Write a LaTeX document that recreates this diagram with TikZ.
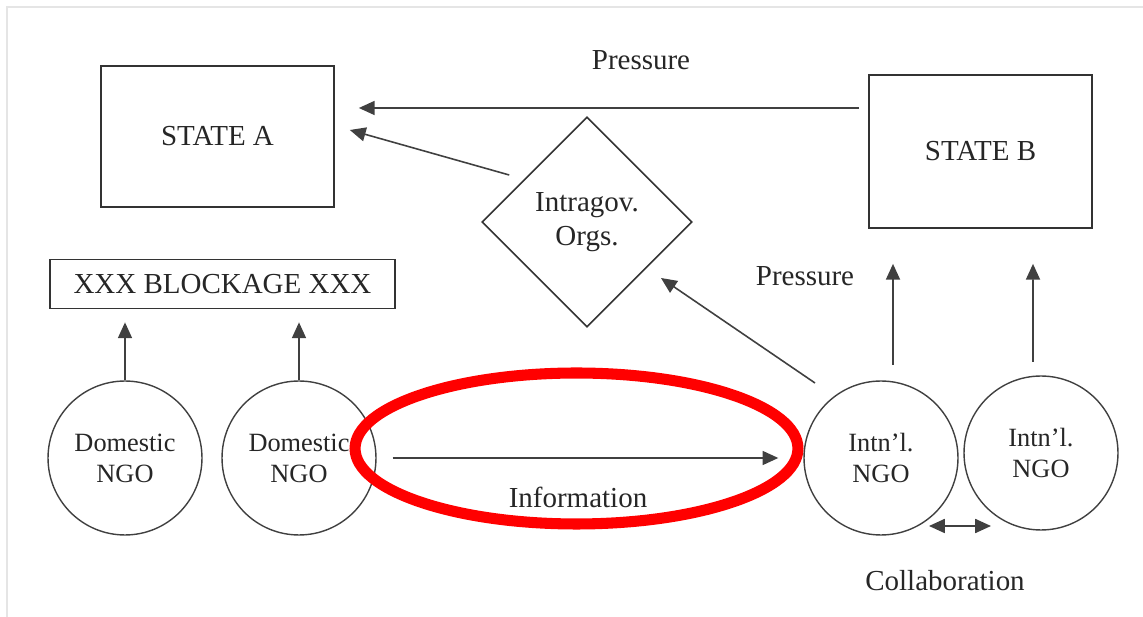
\documentclass[tikz,border=0pt]{standalone}
\usepackage{fontspec}
\setmainfont{Liberation Serif}
\usetikzlibrary{shapes.geometric,arrows.meta}

\begin{document}
\begin{tikzpicture}[x=0.02cm,y=-0.02cm,font=\fontsize{16.5}{19.5}\selectfont,
	box/.style={draw=black!80, line width=1pt, text=black!85},
	ngo/.style={draw=black!75, line width=0.8pt, circle, minimum size=3.08cm, inner sep=0pt,
		align=center, text=black!85, font=\fontsize{15}{17.6}\selectfont},
	arr/.style={draw=black!75, line width=0.9pt, -{Triangle[length=9pt,width=8pt]}},
	biarr/.style={draw=black!75, line width=0.9pt, {Triangle[length=9pt,width=8pt]}-{Triangle[length=9pt,width=8pt]}},
	lbl/.style={text=black!85}]
	\useasboundingbox (0,0) rectangle (1143,617);

	% Cornice
	\draw[black!10, line width=1pt] (7,617) -- (7,7) -- (1143,7);

	% Stati e blocco
	\node[box, minimum width=4.66cm, minimum height=2.82cm] (stateA) at (217.5,136.5) {STATE A};
	\node[box, minimum width=4.46cm, minimum height=3.06cm] (stateB) at (980.5,151.5) {STATE B};
	\node[box, minimum width=6.9cm, minimum height=0.98cm, inner sep=0pt] (block) at (222.5,284) {XXX BLOCKAGE XXX};

	% Organizzazioni intergovernative
	\node[box, diamond, aspect=1, minimum width=4.2cm, minimum height=4.2cm, inner sep=0pt,
		align=center, line width=0.9pt] (igo) at (587,222) {Intragov.\\Orgs.};

	% ONG
	\node[ngo] (dom1) at (125,458) {Domestic\\NGO};
	\node[ngo] (dom2) at (299,458) {Domestic\\NGO};
	\node[ngo] (intl1) at (881,458) {Intn'l.\\NGO};
	\node[ngo] (intl2) at (1041,453) {Intn'l.\\NGO};

	% Frecce
	\draw[arr] ([shift={(-9,-43.5)}]stateB.west) -- ([shift={(24,-28.5)}]stateA.east);
	\draw[arr] ([shift={(28,-47)}]igo.west) -- ([shift={(15,-6.5)}]stateA.east);
	\draw[arr] ([shift={(-66,-75)}]intl1.center) -- ([shift={(74,56)}]igo.center);
	\draw[arr] ([shift={(12,-93)}]intl1.center) -- ([shift={(-87.5,35)}]stateB.south);
	\draw[arr] ([shift={(-8,-91)}]intl2.center) -- ([shift={(52.5,35)}]stateB.south);
	\draw[arr, shorten >=0.26cm] (dom1.north) -- (dom1.north |- block.south);
	\draw[arr, shorten >=0.26cm] (dom2.north) -- (dom2.north |- block.south);
	\draw[arr, shorten <=0.32cm, shorten >=0.5cm] (dom2.east) -- (intl1.west);
	\draw[biarr] ([shift={(48,68)}]intl1.center) -- ([shift={(-50,73)}]intl2.center);

	% Etichette
	\node[lbl] (press1) at (641,60) {Pressure};
	\node[lbl] (press2) at (805,276) {Pressure};
	\node[lbl] (info) at (578,497) {Information};
	\node[lbl] (collab) at (945,581) {Collaboration};

	% Evidenziatura rossa
	\draw[red, line width=6.3pt] (576.5,448.5) ellipse [x radius=4.43cm, y radius=1.51cm];
\end{tikzpicture}
\end{document}
